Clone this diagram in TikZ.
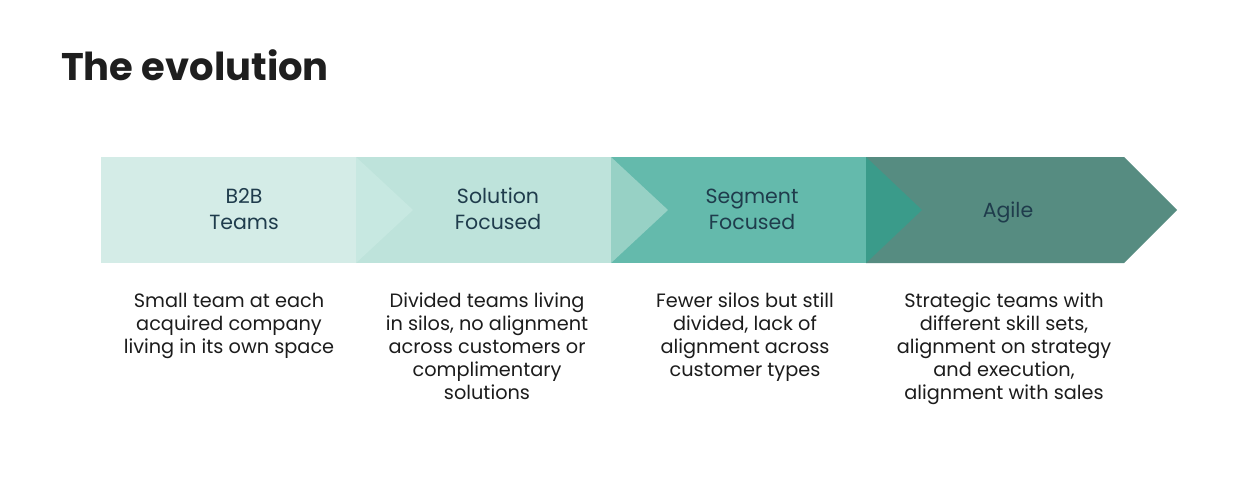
\documentclass[tikz,border=0pt]{standalone}
\usepackage{fontspec}
\setmainfont{Poppins}
\definecolor{cA}{HTML}{D4ECE7}
\definecolor{cB}{HTML}{BEE3DB}
\definecolor{tB}{HTML}{C7E8E1}
\definecolor{cC}{HTML}{64BAAC}
\definecolor{tC}{HTML}{97D1C5}
\definecolor{cD}{HTML}{568C81}
\definecolor{tD}{HTML}{3A9B8A}
\definecolor{labelcol}{HTML}{1F3C4C}
\definecolor{desccol}{HTML}{1C1C1C}
\definecolor{titlecol}{HTML}{1E1E1E}
\begin{document}
\begin{tikzpicture}[x=1pt,y=-1pt,
  stagelabel/.style={inner sep=0pt, align=center, anchor=base, text=labelcol,
    font=\fontsize{20.5}{26}\selectfont},
  desc/.style={inner sep=0pt, align=center, anchor=base, text=desccol,
    font=\fontsize{19.3}{23}\selectfont}]
\useasboundingbox (0,0) rectangle (1257,495);
\fill[white] (0,0) rectangle (1257,495);
% stage shapes
\fill[cA] (101,157) rectangle (356,263);
\fill[cB] (356,157) rectangle (611,263);
\fill[tB] (356,157) -- (413,210) -- (356,263) -- cycle;
\fill[cC] (611,157) rectangle (866,263);
\fill[tC] (611,157) -- (668,210) -- (611,263) -- cycle;
\fill[cD] (866,157) -- (1124,157) -- (1177,210) -- (1124,263) -- (866,263) -- cycle;
\fill[tD] (866,157) -- (922,210) -- (866,263) -- cycle;
% title
\node[inner sep=0pt, anchor=base west, text=titlecol,
  font=\fontsize{38.5}{46}\selectfont\bfseries] (title) at (61,80) {The evolution};
% stage labels (anchor = baseline of last line)
\node[stagelabel] (l1) at (244,229) {B2B\\Teams};
\node[stagelabel] (l2) at (498,229) {Solution\\Focused};
\node[stagelabel] (l3) at (752,229) {Segment\\Focused};
\node[stagelabel] (l4) at (1008,217) {Agile};
% descriptions (anchor = baseline of last line)
\node[desc] (d1) at (229,353) {Small team at each\\acquired company\\living in its own space};
\node[desc] (d2) at (487,399) {Divided teams living\\in silos, no alignment\\across customers or\\complimentary\\solutions};
\node[desc] (d3) at (745,376) {Fewer silos but still\\divided, lack of\\alignment across\\customer types};
\node[desc] (d4) at (1004,399) {Strategic teams with\\different skill sets,\\alignment on strategy\\and execution,\\alignment with sales};
\end{tikzpicture}
\end{document}
